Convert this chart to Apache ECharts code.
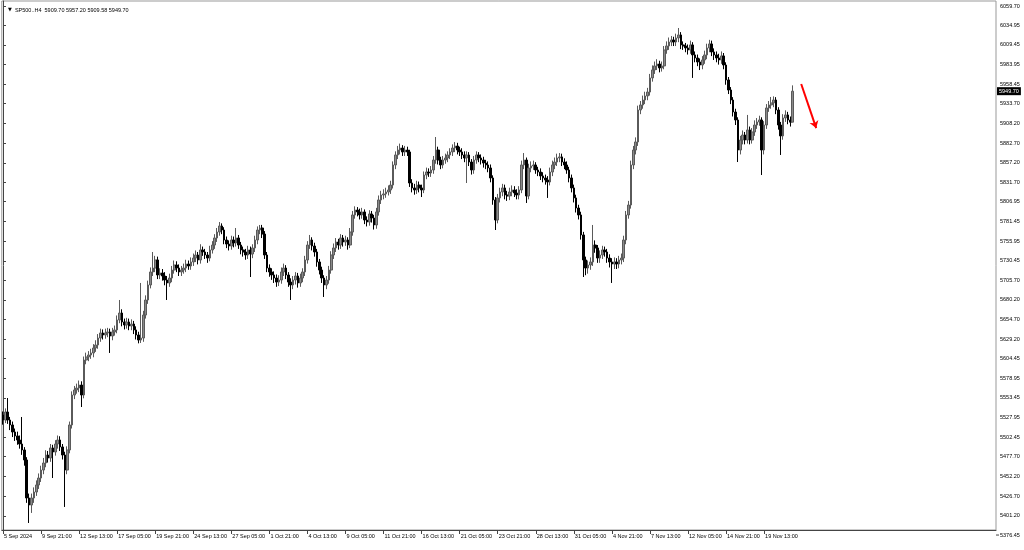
<!DOCTYPE html>
<html>
<head>
<meta charset="utf-8">
<script src="https://cdn.jsdelivr.net/npm/echarts@6.0.0/dist/echarts.min.js"></script>
<style>
html,body{margin:0;padding:0;background:#fff;}
#c{width:1024px;height:550px;}
</style>
</head>
<body>
<div id="c"></div>
<script>
// ---- data ----
const symbolName = 'SP500..H4';
const xLabels = ['5 Sep 2024','9 Sep 21:00','12 Sep 13:00','17 Sep 05:00','19 Sep 21:00','24 Sep 13:00','27 Sep 05:00','1 Oct 21:00','4 Oct 13:00','9 Oct 05:00','11 Oct 21:00','16 Oct 13:00','21 Oct 05:00','23 Oct 21:00','28 Oct 13:00','31 Oct 05:00','4 Nov 21:00','7 Nov 13:00','12 Nov 05:00','14 Nov 21:00','19 Nov 13:00'];
const barsPerLabel = 16;
const totalSlots = 418;
const yTicks = [6059.70,6034.95,6009.45,5983.95,5958.45,5933.70,5908.20,5882.70,5857.20,5831.70,5806.95,5781.45,5755.95,5730.45,5705.70,5680.20,5654.70,5629.20,5604.45,5578.95,5553.45,5527.95,5502.45,5477.70,5452.20,5426.70,5401.20,5376.45];

const closes = [
5525.0,5535.3,5525.0,5518.6,5509.5,5504.4,5499.2,5494.0,5486.3,5473.4,
5424.3,5415.2,5424.3,5432.0,5441.1,5450.1,5460.4,5469.5,5479.8,5475.9,
5488.9,5483.7,5494.0,5499.2,5490.2,5479.8,5460.4,5486.3,5518.6,5557.3,
5563.8,5566.3,5570.2,5557.3,5602.5,5606.4,5609.0,5611.6,5618.0,5621.9,
5630.9,5637.4,5634.8,5637.4,5638.7,5633.5,5638.7,5641.3,5654.2,5663.2,
5651.6,5647.7,5651.6,5646.4,5649.0,5641.3,5634.8,5628.3,5630.9,5660.6,
5680.0,5699.4,5716.2,5721.3,5731.7,5712.3,5714.9,5711.0,5705.8,5702.0,
5708.4,5718.7,5725.2,5721.3,5716.2,5718.7,5721.3,5726.5,5723.9,5729.1,
5734.2,5738.1,5731.7,5744.6,5742.0,5738.1,5734.2,5744.6,5751.0,5760.1,
5767.8,5775.6,5770.4,5757.5,5752.3,5749.7,5757.5,5753.6,5760.1,5751.0,
5744.6,5742.0,5738.1,5744.6,5739.4,5747.2,5757.5,5770.4,5773.0,5765.2,
5738.1,5721.3,5716.2,5712.3,5708.4,5703.2,5705.8,5716.2,5721.3,5712.3,
5703.2,5699.4,5705.8,5711.0,5702.0,5708.4,5716.2,5731.7,5751.0,5757.5,
5749.7,5742.0,5729.1,5718.7,5708.4,5699.4,5705.8,5718.7,5738.1,5747.2,
5754.9,5751.0,5760.1,5754.9,5757.5,5751.0,5767.8,5789.8,5796.2,5793.7,
5789.8,5793.7,5783.3,5780.7,5791.1,5785.9,5776.9,5793.7,5809.2,5815.6,
5817.0,5819.5,5822.1,5828.5,5854.4,5867.3,5873.7,5876.3,5871.2,5873.7,
5871.2,5831.1,5824.7,5822.1,5828.5,5824.7,5822.1,5841.4,5845.3,5844.0,
5847.9,5860.8,5873.7,5860.8,5854.4,5860.8,5863.4,5867.3,5871.2,5876.3,
5878.9,5873.7,5871.2,5867.3,5863.4,5867.3,5858.2,5847.9,5860.8,5867.3,
5863.4,5860.8,5856.9,5854.4,5850.5,5837.6,5809.2,5783.3,5811.8,5819.5,
5824.7,5815.6,5814.3,5819.5,5822.1,5818.2,5815.6,5822.1,5854.4,5860.8,
5814.3,5850.5,5853.1,5854.4,5847.9,5845.3,5840.2,5837.6,5835.0,5832.4,
5845.3,5854.4,5858.2,5863.4,5864.8,5858.2,5854.4,5847.9,5837.6,5824.7,
5811.8,5798.8,5789.8,5764.0,5731.7,5721.3,5725.2,5729.1,5751.0,5747.2,
5734.2,5738.1,5744.6,5742.0,5734.2,5729.1,5726.5,5729.1,5726.5,5731.7,
5734.2,5757.5,5789.8,5802.7,5854.4,5873.7,5884.1,5925.4,5931.9,5938.3,
5943.5,5948.6,5966.8,5977.1,5982.3,5984.8,5979.7,5982.3,6002.9,6008.1,
6013.2,6015.8,6013.2,6018.4,6022.3,6009.4,6008.1,6005.5,6002.9,6009.4,
5996.5,5992.6,5987.4,5983.5,5990.0,5996.5,6005.5,6010.7,6000.3,5996.5,
5992.6,5990.0,5995.2,5983.5,5964.2,5951.2,5938.3,5922.8,5912.5,5873.7,
5886.6,5893.1,5886.6,5899.6,5886.6,5897.0,5906.0,5909.9,5912.5,5873.7,
5906.0,5928.0,5931.9,5934.5,5938.3,5925.4,5906.0,5891.9,5915.1,5919.0,
5912.5,5909.7,5949.7];

const opens = [
5531.5,5525.0,5535.3,5525.0,5518.6,5509.5,5504.4,5499.2,5494.0,5486.3,
5473.4,5424.3,5415.2,5424.3,5432.0,5441.1,5450.1,5460.4,5469.5,5479.8,
5475.9,5488.9,5483.7,5494.0,5499.2,5490.2,5479.8,5460.4,5486.3,5518.6,
5557.3,5563.8,5566.3,5570.2,5557.3,5602.5,5606.4,5609.0,5611.6,5618.0,
5621.9,5630.9,5637.4,5634.8,5637.4,5638.7,5633.5,5638.7,5641.3,5654.2,
5663.2,5651.6,5647.7,5651.6,5646.4,5649.0,5641.3,5634.8,5628.3,5630.9,
5660.6,5680.0,5699.4,5716.2,5721.3,5731.7,5712.3,5714.9,5711.0,5705.8,
5702.0,5708.4,5718.7,5725.2,5721.3,5716.2,5718.7,5721.3,5726.5,5723.9,
5729.1,5734.2,5738.1,5731.7,5744.6,5742.0,5738.1,5734.2,5744.6,5751.0,
5760.1,5767.8,5775.6,5770.4,5757.5,5752.3,5749.7,5757.5,5753.6,5760.1,
5751.0,5744.6,5742.0,5738.1,5744.6,5739.4,5747.2,5757.5,5770.4,5773.0,
5765.2,5738.1,5721.3,5716.2,5712.3,5708.4,5703.2,5705.8,5716.2,5721.3,
5712.3,5703.2,5699.4,5705.8,5711.0,5702.0,5708.4,5716.2,5731.7,5751.0,
5757.5,5749.7,5742.0,5729.1,5718.7,5708.4,5699.4,5705.8,5718.7,5738.1,
5747.2,5754.9,5751.0,5760.1,5754.9,5757.5,5751.0,5767.8,5789.8,5796.2,
5793.7,5789.8,5793.7,5783.3,5780.7,5791.1,5785.9,5776.9,5793.7,5809.2,
5815.6,5817.0,5819.5,5822.1,5828.5,5854.4,5867.3,5873.7,5876.3,5871.2,
5873.7,5871.2,5831.1,5824.7,5822.1,5828.5,5824.7,5822.1,5841.4,5845.3,
5844.0,5847.9,5860.8,5873.7,5860.8,5854.4,5860.8,5863.4,5867.3,5871.2,
5876.3,5878.9,5873.7,5871.2,5867.3,5863.4,5867.3,5858.2,5847.9,5860.8,
5867.3,5863.4,5860.8,5856.9,5854.4,5850.5,5837.6,5809.2,5783.3,5811.8,
5819.5,5824.7,5815.6,5814.3,5819.5,5822.1,5818.2,5815.6,5822.1,5854.4,
5860.8,5814.3,5850.5,5853.1,5854.4,5847.9,5845.3,5840.2,5837.6,5835.0,
5832.4,5845.3,5854.4,5858.2,5863.4,5864.8,5858.2,5854.4,5847.9,5837.6,
5824.7,5811.8,5798.8,5789.8,5764.0,5731.7,5721.3,5725.2,5729.1,5751.0,
5747.2,5734.2,5738.1,5744.6,5742.0,5734.2,5729.1,5726.5,5729.1,5726.5,
5731.7,5734.2,5757.5,5789.8,5802.7,5854.4,5873.7,5884.1,5925.4,5931.9,
5938.3,5943.5,5948.6,5966.8,5977.1,5982.3,5984.8,5979.7,5982.3,6002.9,
6008.1,6013.2,6015.8,6013.2,6018.4,6022.3,6009.4,6008.1,6005.5,6002.9,
6009.4,5996.5,5992.6,5987.4,5983.5,5990.0,5996.5,6005.5,6010.7,6000.3,
5996.5,5992.6,5990.0,5995.2,5983.5,5964.2,5951.2,5938.3,5922.8,5912.5,
5873.7,5886.6,5893.1,5886.6,5899.6,5886.6,5897.0,5906.0,5909.9,5912.5,
5873.7,5906.0,5928.0,5931.9,5934.5,5938.3,5925.4,5906.0,5891.9,5915.1,
5919.0,5912.5,5909.7];

const highs = [
5536.0,5540.0,5553.4,5529.0,5523.0,5514.0,5510.0,5505.0,5528.9,5490.0,
5477.0,5430.0,5430.0,5438.0,5447.0,5456.0,5466.0,5476.0,5486.0,5485.0,
5494.0,5493.0,5499.0,5505.0,5504.0,5494.0,5484.0,5491.0,5523.0,5562.0,
5569.0,5572.0,5576.0,5575.0,5607.0,5612.0,5614.0,5617.0,5623.0,5628.0,
5636.0,5643.0,5642.0,5643.0,5644.0,5643.0,5644.0,5647.0,5660.0,5680.0,
5668.0,5656.0,5657.0,5656.0,5655.0,5653.0,5646.0,5639.0,5702.0,5666.0,
5686.0,5705.0,5722.0,5742.0,5737.0,5736.0,5721.0,5720.0,5716.0,5711.0,
5714.0,5724.0,5731.0,5730.0,5726.0,5724.0,5727.0,5732.0,5731.0,5735.0,
5740.0,5744.0,5742.0,5752.0,5749.0,5746.0,5742.0,5750.0,5756.0,5765.0,
5773.0,5780.7,5779.0,5774.0,5762.0,5757.0,5763.0,5762.0,5773.0,5764.0,
5755.0,5749.0,5746.0,5750.0,5749.0,5752.0,5763.0,5775.0,5776.9,5777.0,
5769.0,5742.0,5726.0,5721.0,5717.0,5713.0,5712.0,5722.0,5727.0,5725.0,
5716.0,5708.0,5711.0,5716.0,5715.0,5714.0,5721.0,5737.0,5756.0,5764.0,
5761.0,5754.0,5746.0,5733.0,5723.0,5712.0,5711.0,5724.0,5743.0,5753.0,
5760.0,5759.0,5765.0,5764.0,5763.0,5761.0,5773.0,5795.0,5801.0,5800.0,
5798.0,5799.0,5797.0,5788.0,5796.0,5795.0,5790.0,5799.0,5815.0,5821.0,
5823.0,5825.0,5828.0,5834.0,5859.0,5872.0,5879.0,5882.0,5880.0,5879.0,
5878.0,5874.0,5836.0,5830.0,5834.0,5833.0,5829.0,5846.0,5851.0,5850.0,
5853.0,5866.0,5890.5,5878.0,5865.0,5866.0,5869.0,5872.0,5876.0,5881.0,
5884.0,5883.0,5878.0,5876.0,5872.0,5872.0,5871.0,5862.0,5866.0,5872.0,
5871.0,5868.0,5865.0,5861.0,5859.0,5855.0,5841.0,5813.0,5817.0,5825.0,
5830.0,5829.0,5821.0,5825.0,5828.0,5827.0,5823.0,5827.0,5860.0,5869.8,
5864.0,5856.0,5859.0,5860.0,5858.0,5852.0,5850.0,5845.0,5842.0,5840.0,
5851.0,5860.0,5864.0,5869.0,5869.8,5869.0,5863.0,5859.0,5852.0,5842.0,
5829.0,5816.0,5803.0,5794.0,5768.0,5736.0,5731.0,5735.0,5776.9,5757.0,
5751.0,5744.0,5750.0,5749.0,5746.0,5739.0,5734.0,5735.0,5734.0,5737.0,
5740.0,5763.0,5795.0,5808.0,5860.0,5879.0,5890.0,5931.0,5937.0,5944.0,
5949.0,5954.0,5972.0,5983.0,5988.0,5991.0,5989.0,5988.0,6008.0,6014.0,
6019.0,6021.0,6020.0,6024.0,6031.3,6026.0,6014.0,6012.0,6010.0,6015.0,
6013.0,6001.0,5997.0,5992.0,5995.0,6002.0,6011.0,6016.0,6015.0,6005.0,
6001.0,5998.0,6001.0,5999.0,5987.0,5968.0,5955.0,5942.0,5927.0,5916.0,
5892.0,5899.0,5897.0,5919.0,5904.0,5902.0,5912.0,5915.0,5918.0,5916.0,
5911.0,5933.0,5937.0,5942.2,5943.0,5942.0,5929.0,5910.0,5920.0,5925.0,
5923.0,5917.0,5957.2];

const lows = [
5519.0,5521.0,5520.0,5512.0,5503.0,5498.0,5493.0,5488.0,5480.0,5466.0,
5418.0,5392.0,5405.0,5418.0,5427.0,5436.0,5445.0,5455.0,5464.0,5470.0,
5471.0,5450.1,5479.0,5488.0,5485.0,5474.0,5412.7,5455.0,5482.0,5514.0,
5552.0,5559.0,5561.0,5541.8,5553.0,5597.0,5601.0,5604.0,5606.0,5613.0,
5617.0,5626.0,5629.0,5630.0,5632.0,5611.6,5628.0,5634.0,5637.0,5650.0,
5646.0,5642.0,5643.0,5641.0,5641.0,5636.0,5629.0,5624.0,5624.5,5626.0,
5656.0,5675.0,5695.0,5711.0,5716.0,5707.0,5707.0,5705.0,5699.0,5680.0,
5697.0,5703.0,5714.0,5716.0,5711.0,5711.0,5714.0,5716.0,5719.0,5719.0,
5724.0,5729.0,5726.0,5727.0,5737.0,5733.0,5728.0,5730.0,5740.0,5746.0,
5755.0,5763.0,5765.0,5752.0,5747.0,5744.0,5745.0,5748.0,5749.0,5746.0,
5739.0,5736.0,5732.0,5733.0,5709.7,5734.0,5742.0,5752.0,5765.0,5760.0,
5733.0,5716.0,5710.0,5706.0,5702.0,5697.0,5698.0,5701.0,5711.0,5707.0,
5697.0,5680.0,5694.0,5700.0,5696.0,5697.0,5703.0,5711.0,5727.0,5746.0,
5744.0,5736.0,5723.0,5713.0,5702.0,5683.9,5694.0,5701.0,5714.0,5733.0,
5742.0,5745.0,5746.0,5749.0,5750.0,5745.0,5747.0,5763.0,5785.0,5788.0,
5784.0,5785.0,5778.0,5775.0,5776.0,5780.0,5771.0,5772.0,5789.0,5804.0,
5810.0,5812.0,5815.0,5817.0,5824.0,5849.0,5862.0,5868.0,5866.0,5866.0,
5866.0,5826.0,5819.0,5816.0,5817.0,5819.0,5813.0,5818.0,5836.0,5839.0,
5839.0,5843.0,5856.0,5855.0,5849.0,5850.0,5856.0,5858.0,5862.0,5866.0,
5871.0,5868.0,5866.0,5862.0,5858.0,5831.1,5853.0,5842.0,5843.0,5856.0,
5858.0,5855.0,5851.0,5849.0,5845.0,5832.0,5803.0,5770.4,5779.0,5806.0,
5814.0,5810.0,5808.0,5809.0,5814.0,5813.0,5810.0,5810.0,5818.0,5849.0,
5805.3,5810.0,5845.0,5848.0,5843.0,5840.0,5835.0,5832.0,5829.0,5811.8,
5828.0,5840.0,5849.0,5853.0,5858.0,5853.0,5849.0,5843.0,5832.0,5819.0,
5806.0,5793.0,5784.0,5758.0,5709.7,5712.0,5714.0,5719.0,5724.0,5741.0,
5728.0,5728.0,5733.0,5736.0,5728.0,5722.0,5702.0,5720.0,5720.0,5721.0,
5726.0,5729.0,5752.0,5785.0,5798.0,5849.0,5868.0,5879.0,5920.0,5927.0,
5933.0,5938.0,5944.0,5962.0,5972.0,5977.0,5974.0,5975.0,5978.0,5998.0,
6003.0,6008.0,6008.0,6008.0,6013.0,6004.0,6003.0,6000.0,5997.0,5998.0,
5966.8,5987.0,5982.0,5977.0,5978.0,5985.0,5991.0,6000.0,5995.0,5990.0,
5987.0,5984.0,5985.0,5978.0,5958.0,5946.0,5933.0,5917.0,5906.0,5858.2,
5868.0,5881.0,5881.0,5882.0,5881.0,5882.0,5892.0,5901.0,5905.0,5841.4,
5868.0,5901.0,5923.0,5927.0,5929.0,5920.0,5900.0,5867.3,5887.0,5910.0,
5907.0,5904.0,5909.58];

// red annotation arrow (bar-index, price)
const arrowStart = [335.6, 5959.0];
const arrowEnd = [341.9, 5902.0];

// ---- build ----
const yMin = 5382.95, yMax = 6066.16;
const categories = [];
for (let i = 0; i < totalSlots; i++) categories.push(String(i));
const ohlc = closes.map((c, i) => [opens[i], c, lows[i], highs[i]]);
const last = closes.length - 1;
const lastClose = closes[last];
const header = symbolName + '  ' + [opens[last], highs[last], lows[last], closes[last]].map(v => v.toFixed(2)).join(' ');
const inRange = yTicks.filter(v => v >= yMin && v <= yMax);
const below = yTicks.filter(v => v < yMin);
const FONT = 'Liberation Sans';
const FS = 5.5;
const isLabelSlot = (i) => i % barsPerLabel === 0 && (i / barsPerLabel) < xLabels.length;

const chart = echarts.init(document.getElementById('c'), null, {renderer: 'canvas'});
const option = {
  animation: false,
  backgroundColor: '#ffffff',
  textStyle: {fontFamily: FONT},
  title: {
    text: '{t|▼}  ' + header,
    left: 3, top: 2,
    textStyle: {fontSize: FS, fontWeight: 'normal', color: '#000', fontFamily: FONT,
      rich: {t: {fontSize: 5, color: '#000', fontFamily: 'DejaVu Sans'}}}
  },
  grid: {left: 1.8, right: 28, top: 1, bottom: 20, show: true, borderColor: '#999', borderWidth: 1, backgroundColor: '#fff'},
  xAxis: [{
    type: 'category', data: categories, boundaryGap: true,
    axisLine: {show: true, lineStyle: {color: '#444', width: 1}},
    axisTick: {show: true, alignWithLabel: true, interval: isLabelSlot, length: 4, lineStyle: {color: '#444'}},
    axisLabel: {interval: isLabelSlot, formatter: (v, i) => xLabels[i / barsPerLabel] || '',
      align: 'left', margin: 3, fontSize: FS, color: '#000', fontFamily: FONT, padding: [0, 0, 0, 1]},
    splitLine: {show: false}
  }, {
    type: 'value', min: -0.5, max: totalSlots - 0.5, show: false
  }],
  yAxis: {
    type: 'value', position: 'right', min: yMin, max: yMax,
    axisLine: {show: true, lineStyle: {color: '#444', width: 1}},
    axisTick: {show: true, length: 3, customValues: inRange, lineStyle: {color: '#444'}},
    axisLabel: {customValues: inRange, formatter: (v) => Number(v).toFixed(2), fontSize: FS, margin: 4, color: '#000', fontFamily: FONT},
    splitLine: {show: false}
  },
  series: [{
    type: 'candlestick',
    data: ohlc,
    barWidth: '88%',
    itemStyle: {color: '#8a8a8a', color0: '#000', borderColor: '#5a5a5a', borderColor0: '#000', borderWidth: 1},
    markLine: {
      silent: true, symbol: 'none', animation: false,
      lineStyle: {color: 'rgba(0,0,0,0)', width: 1, type: 'solid'},
      label: {show: true, position: 'end', distance: 1, formatter: lastClose.toFixed(2),
        backgroundColor: '#000', color: '#fff', fontSize: FS, fontFamily: FONT, padding: [1, 2, 1, 2]},
      data: [{yAxis: lastClose}]
    }
  }, {
    type: 'line', xAxisIndex: 1, yAxisIndex: 0,
    data: [arrowStart, arrowEnd], showSymbol: false, lineStyle: {width: 0}, silent: true,
    markLine: {
      silent: true, animation: false,
      symbol: ['none', 'arrow'], symbolSize: 7,
      lineStyle: {color: '#ff0000', width: 2, type: 'solid'},
      label: {show: false},
      data: [[{coord: arrowStart}, {coord: arrowEnd}]]
    }
  }]
};
chart.setOption(option);

// bottom price label that lies just below the plot frame
const axisX = 1024 - 28;
chart.setOption({
  graphic: below.map(v => {
    const py = chart.convertToPixel({yAxisIndex: 0}, v);
    return {type: 'group', children: [
      {type: 'line', shape: {x1: axisX, y1: py, x2: axisX + 3, y2: py}, style: {stroke: '#444', lineWidth: 1}},
      {type: 'text', x: axisX + 4, y: py, style: {text: v.toFixed(2), fontSize: FS, fontFamily: FONT, fill: '#000', textVerticalAlign: 'middle', verticalAlign: 'middle'}}
    ]};
  })
});
</script>
</body>
</html>
